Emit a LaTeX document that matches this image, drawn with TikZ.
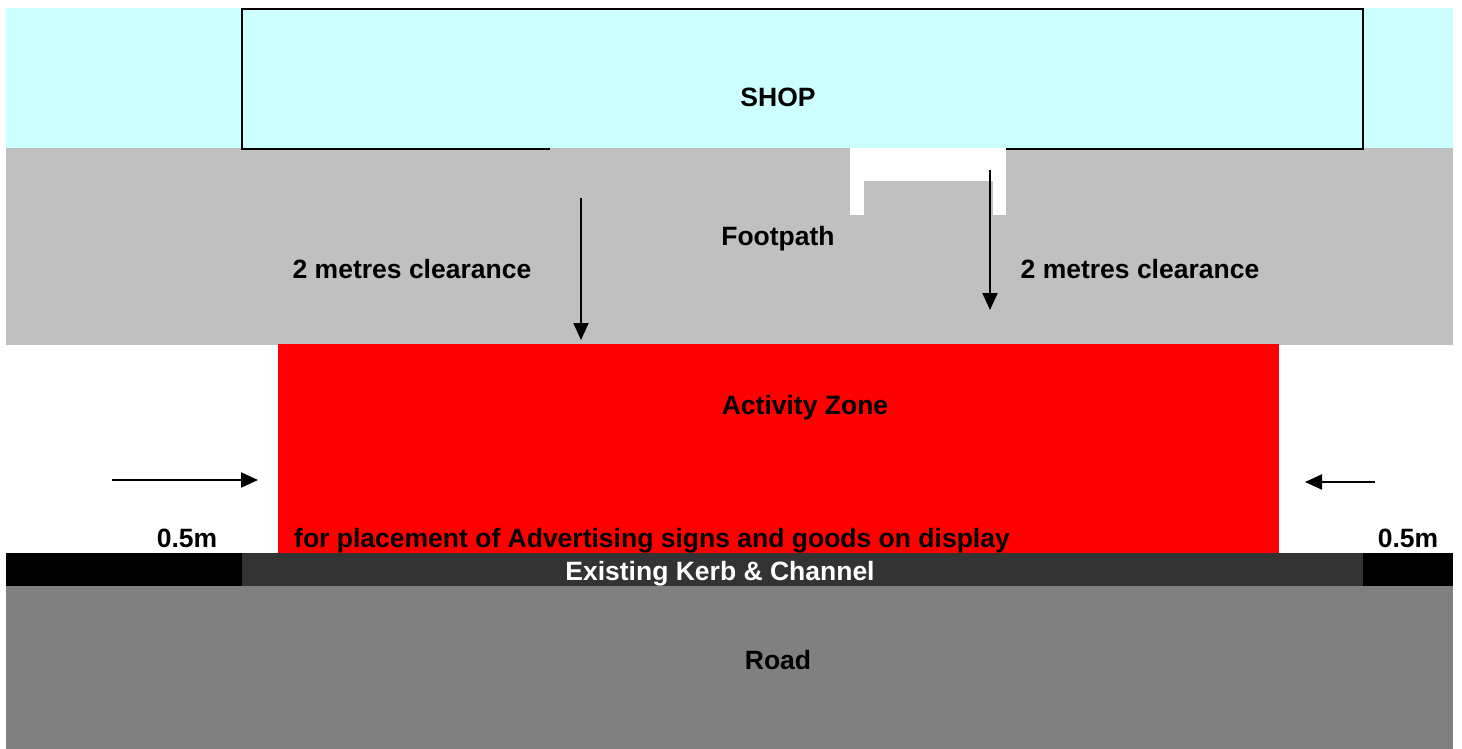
\documentclass[tikz,border=0pt]{standalone}
\usepackage{fontspec}
\setmainfont{Liberation Sans}
\usetikzlibrary{arrows.meta}
\definecolor{shopcyan}{HTML}{CCFFFF}
\definecolor{footgray}{HTML}{C0C0C0}
\definecolor{kerbdark}{HTML}{333333}
\definecolor{roadgray}{HTML}{808080}
\tikzset{
  lbl/.style={font=\bfseries\fontsize{26.5}{30}\selectfont, text=black, inner sep=0pt,
    text height=19pt, text depth=0pt},
  arr/.style={line width=2pt, -{Triangle[length=17pt,width=15pt]}}
}
\begin{document}
\begin{tikzpicture}[x=1pt,y=-1pt]
\useasboundingbox (0,0) rectangle (1462,749);
% bands
\fill[shopcyan] (6,8) rectangle (1453,148);
\fill[footgray] (6,148) rectangle (1453,345);
\fill[red] (278,344) rectangle (1279,553);
\fill[black] (6,553) rectangle (1453,586);
\fill[kerbdark] (242,553) rectangle (1363,586);
\fill[roadgray] (6,586) rectangle (1453,749);
% shop outline
\draw[line width=2.5pt] (550,149) -- (242,149) -- (242,9) -- (1363,9) -- (1363,149) -- (1006,149);
% door recess
\fill[white] (850,148) rectangle (1006,215);
\fill[footgray] (864,181) rectangle (993,215);
% labels
\node[lbl] (shop) at (778,97) {SHOP};
\node[lbl] (foot) at (778,236) {Footpath};
\node[lbl] (clrL) at (412,269) {2 metres clearance};
\node[lbl] (clrR) at (1140,269) {2 metres clearance};
\node[lbl] (zone) at (805,405) {Activity Zone};
\node[lbl] (place) at (652,538) {for placement of Advertising signs and goods on display};
\node[lbl] (halfL) at (187,538) {0.5m};
\node[lbl] (halfR) at (1408,538) {0.5m};
\node[lbl, text=white] (kerb) at (720,571) {Existing Kerb \& Channel};
\node[lbl] (road) at (778,660) {Road};
% arrows
\coordinate (aLs) at (581,198); \coordinate (aLe) at (581,340);
\coordinate (aRs) at (990,170); \coordinate (aRe) at (990,310);
\coordinate (hLs) at (112,480); \coordinate (hLe) at (258,480);
\coordinate (hRs) at (1375,482); \coordinate (hRe) at (1305,482);
\draw[arr] (aLs) -- (aLe);
\draw[arr] (aRs) -- (aRe);
\draw[arr] (hLs) -- (hLe);
\draw[arr] (hRs) -- (hRe);
\end{tikzpicture}
\end{document}
